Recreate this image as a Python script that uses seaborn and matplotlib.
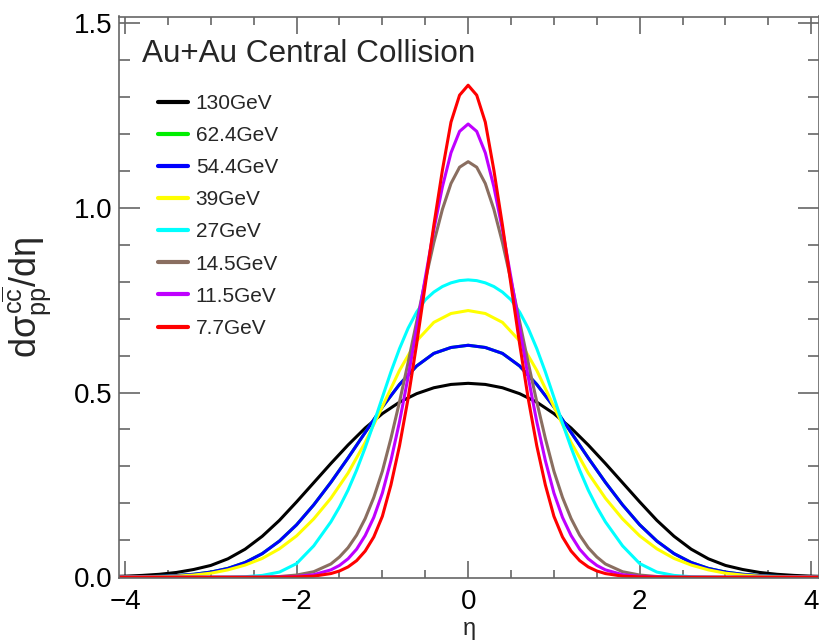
import numpy as np
import pandas as pd
import matplotlib
matplotlib.use('Agg')
import matplotlib.pyplot as plt
import seaborn as sns
from matplotlib.ticker import MultipleLocator, FormatStrFormatter

# pseudorapidity grids: coarse one for the broad curves, finer one for the narrow ones
eta = [-4.2, -4.0, -3.8, -3.6, -3.4, -3.2, -3.0, -2.8, -2.6, -2.4, -2.2,
       -2.0, -1.8, -1.6, -1.4, -1.2, -1.0, -0.8, -0.6, -0.4, -0.2, 0.0,
       0.2, 0.4, 0.6, 0.8, 1.0, 1.2, 1.4, 1.6, 1.8, 2.0,
       2.2, 2.4, 2.6, 2.8, 3.0, 3.2, 3.4, 3.6, 3.8, 4.0, 4.2]

eta_fine = [-4.2, -3.0, -2.8, -2.6, -2.4, -2.2, -2.0, -1.8,
            -1.6, -1.5, -1.4, -1.3, -1.2, -1.1, -1.0, -0.9, -0.8, -0.7, -0.6, -0.5,
            -0.4, -0.3, -0.2, -0.1, 0.0, 0.1, 0.2, 0.3, 0.4,
            0.5, 0.6, 0.7, 0.8, 0.9, 1.0, 1.1, 1.2, 1.3, 1.4, 1.5, 1.6,
            1.8, 2.0, 2.2, 2.4, 2.6, 2.8, 3.0, 4.2]

au130 = [0.002, 0.003, 0.005, 0.008, 0.013, 0.021, 0.032, 0.050, 0.076, 0.111, 0.154,
         0.204, 0.256, 0.308, 0.358, 0.404, 0.443, 0.474, 0.497, 0.513, 0.522, 0.525,
         0.522, 0.513, 0.497, 0.474, 0.443, 0.404, 0.358, 0.308, 0.256, 0.204,
         0.154, 0.111, 0.076, 0.050, 0.032, 0.021, 0.013, 0.008, 0.005, 0.003, 0.002]

au62 = [0.0003, 0.0006, 0.0013, 0.0025, 0.0045, 0.008, 0.014, 0.024, 0.040, 0.064, 0.098,
        0.142, 0.196, 0.257, 0.323, 0.392, 0.461, 0.522, 0.572, 0.606, 0.622, 0.628,
        0.622, 0.606, 0.572, 0.522, 0.461, 0.392, 0.323, 0.257, 0.196, 0.142,
        0.098, 0.064, 0.040, 0.024, 0.014, 0.008, 0.0045, 0.0025, 0.0013, 0.0006, 0.0003]

au54 = [0.0003, 0.0006, 0.0013, 0.0025, 0.0045, 0.008, 0.014, 0.024, 0.040, 0.064, 0.098,
        0.142, 0.196, 0.257, 0.323, 0.392, 0.461, 0.522, 0.572, 0.606, 0.622, 0.628,
        0.622, 0.606, 0.572, 0.522, 0.461, 0.392, 0.323, 0.257, 0.196, 0.142,
        0.098, 0.064, 0.040, 0.024, 0.014, 0.008, 0.0045, 0.0025, 0.0013, 0.0006, 0.0003]

au39 = [0.0001, 0.0003, 0.0007, 0.0015, 0.003, 0.006, 0.011, 0.020, 0.033, 0.051, 0.077,
        0.112, 0.158, 0.214, 0.282, 0.365, 0.462, 0.560, 0.640, 0.690, 0.714, 0.722,
        0.714, 0.690, 0.640, 0.560, 0.462, 0.365, 0.282, 0.214, 0.158, 0.112,
        0.077, 0.051, 0.033, 0.020, 0.011, 0.006, 0.003, 0.0015, 0.0007, 0.0003, 0.0001]

au27 = [0, 0, 0.0004, 0.0015, 0.005, 0.014, 0.037, 0.085,
        0.150, 0.190, 0.236, 0.290, 0.351, 0.417, 0.487, 0.556, 0.619, 0.674, 0.718, 0.751,
        0.772, 0.787, 0.797, 0.803, 0.805, 0.803, 0.797, 0.787, 0.772,
        0.751, 0.718, 0.674, 0.619, 0.556, 0.487, 0.417, 0.351, 0.290, 0.236, 0.190, 0.150,
        0.085, 0.037, 0.014, 0.005, 0.0015, 0.0004, 0, 0]

au14 = [0, 0, 0, 0, 0.0006, 0.002, 0.006, 0.015,
        0.036, 0.055, 0.080, 0.114, 0.159, 0.216, 0.287, 0.376, 0.475, 0.581, 0.692, 0.803,
        0.906, 0.996, 1.066, 1.110, 1.125, 1.110, 1.066, 0.996, 0.906,
        0.803, 0.692, 0.581, 0.475, 0.376, 0.287, 0.216, 0.159, 0.114, 0.080, 0.055, 0.036,
        0.015, 0.006, 0.002, 0.0006, 0, 0, 0, 0]

au11 = [0, 0, 0, 0, 0, 0.0006, 0.002, 0.007,
        0.020, 0.032, 0.050, 0.076, 0.113, 0.162, 0.228, 0.316, 0.421, 0.542, 0.674, 0.810,
        0.941, 1.057, 1.149, 1.207, 1.227, 1.207, 1.149, 1.057, 0.941,
        0.810, 0.674, 0.542, 0.421, 0.316, 0.228, 0.162, 0.113, 0.076, 0.050, 0.032, 0.020,
        0.007, 0.002, 0.0006, 0, 0, 0, 0, 0]

au7 = [0, 0, 0, 0, 0, 0.0003, 0.001, 0.003,
       0.010, 0.017, 0.028, 0.045, 0.071, 0.109, 0.165, 0.250, 0.356, 0.484, 0.632, 0.791,
       0.953, 1.102, 1.232, 1.305, 1.332, 1.305, 1.232, 1.102, 0.953,
       0.791, 0.632, 0.484, 0.356, 0.250, 0.165, 0.109, 0.071, 0.045, 0.028, 0.017, 0.010,
       0.003, 0.001, 0.0003, 0, 0, 0, 0, 0]

labels = ['130GeV', '62.4GeV', '54.4GeV', '39GeV', '27GeV', '14.5GeV', '11.5GeV', '7.7GeV']
colors = ['black', '#00ee00', '#0000ff', '#ffff00', '#00ffff', '#8a6e60', '#bf00ff', '#ff0000']
curves = [au130, au62, au54, au39, au27, au14, au11, au7]
grids = [eta, eta, eta, eta, eta_fine, eta_fine, eta_fine, eta_fine]

sns.set_style('ticks')
plt.rcParams['font.family'] = ['Liberation Sans', 'DejaVu Sans']
plt.rcParams['mathtext.fontset'] = 'custom'
plt.rcParams['mathtext.rm'] = 'Liberation Sans'
plt.rcParams['mathtext.it'] = 'Liberation Sans'
plt.rcParams['mathtext.bf'] = 'Liberation Sans:bold'

fig = plt.figure(figsize=(8.19, 6.42), dpi=100)
ax = fig.add_axes([119 / 819, 64 / 642, 700 / 819, 561.5 / 642])

for lab, col, x, y in zip(labels, colors, grids, curves):
    assert len(x) == len(y), lab
    df = pd.DataFrame({'eta': x, 'val': y})
    sns.lineplot(data=df, x='eta', y='val', color=col, lw=2.2, label=lab, ax=ax)

ax.set_xlim(-4.07, 4.09)
ax.set_ylim(-0.002, 1.518)

ax.xaxis.set_major_locator(MultipleLocator(2))
ax.xaxis.set_minor_locator(MultipleLocator(0.5))
ax.yaxis.set_major_locator(MultipleLocator(0.5))
ax.yaxis.set_minor_locator(MultipleLocator(0.1))
ax.yaxis.set_major_formatter(FormatStrFormatter('%.1f'))

ax.tick_params(which='both', direction='in', top=True, right=True,
               color='#666666', width=1.2, labelcolor='black')
ax.tick_params(axis='x', which='major', length=12, labelsize=20, pad=8)
ax.tick_params(axis='x', which='minor', length=6)
ax.tick_params(axis='y', which='major', length=15, labelsize=20, pad=5)
ax.tick_params(axis='y', which='minor', length=8)
for sp in ax.spines.values():
    sp.set_color('#666666')
    sp.set_linewidth(1.2)

ax.set_xlabel('η', fontsize=17)
ax.xaxis.set_label_coords(0.5, -0.072)
ax.set_ylabel(r'd$\sigma^{c\overline{c}}_{pp}$/d$\eta$', fontsize=26)
ax.yaxis.set_label_coords(-0.094, 0.5)

ax.text(0.033, 0.919, 'Au+Au Central Collision', transform=ax.transAxes,
        fontsize=22.7, va='baseline')

leg = ax.legend(loc='upper left', bbox_to_anchor=(0.056, 0.862), frameon=False,
                fontsize=15, handlelength=1.45, handletextpad=0.35,
                labelspacing=0.63, borderpad=0, borderaxespad=0)
for h in leg.get_lines():
    h.set_linewidth(3)

fig.savefig('out.png', dpi=100)
